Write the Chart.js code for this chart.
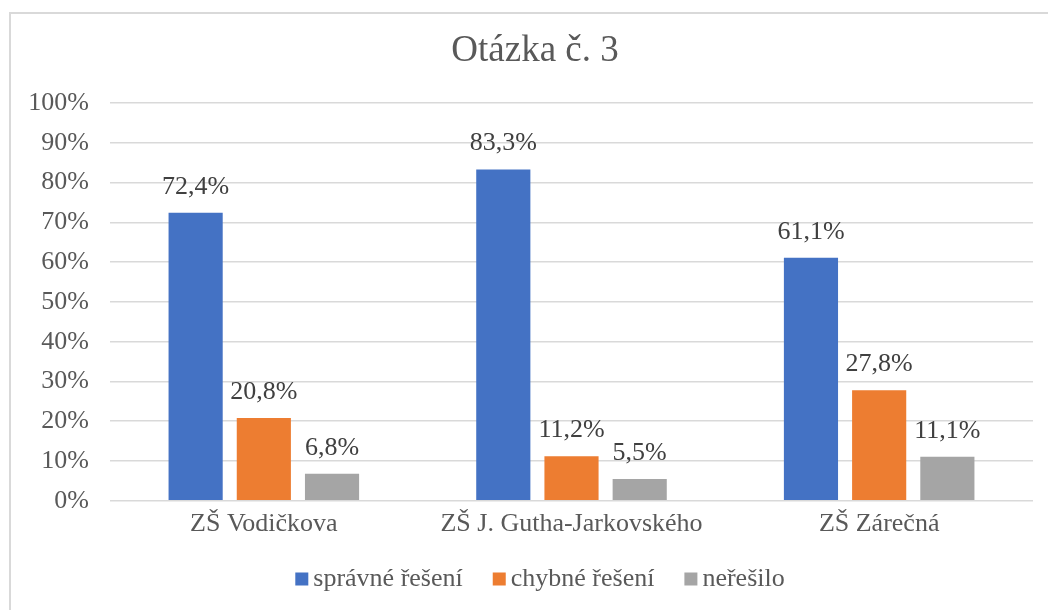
<!DOCTYPE html>
<html>
<head>
<meta charset="utf-8">
<script src="https://cdn.jsdelivr.net/npm/chart.js@4/dist/chart.umd.min.js"></script>
<style>
  html, body { margin: 0; padding: 0; background: #ffffff; }
  #wrap { position: relative; width: 1048px; height: 610px; }
</style>
</head>
<body>
<div id="wrap"><canvas id="c" width="1048" height="610"></canvas></div>
<script>
const titleText = 'Otázka č. 3';
const categories = ['ZŠ Vodičkova', 'ZŠ J. Gutha-Jarkovského', 'ZŠ Zárečná'];
const seriesNames = ['správné řešení', 'chybné řešení', 'neřešilo'];
const spravneReseni = [72.4, 83.3, 61.1];
const chybneReseni = [20.8, 11.2, 27.8];
const neresilo = [6.8, 5.5, 11.1];
const seriesColors = ['#4472C4', '#ED7D31', '#A5A5A5'];
const yMin = 0, yMax = 100, yStep = 10;

const serif = "'Liberation Serif', 'Times New Roman', serif";
const fmt = v => v.toFixed(1).replace('.', ',') + '%';

const borderPlugin = {
  id: 'outerBorder',
  beforeDraw(chart) {
    const ctx = chart.ctx;
    ctx.save();
    ctx.fillStyle = '#d9d9d9';
    ctx.fillRect(9, 12, chart.width - 9, 2);
    ctx.fillRect(9, 12, 2, chart.height - 12);
    ctx.restore();
  }
};

const titleAndLegend = {
  id: 'titleAndLegend',
  afterDraw(chart) {
    const ctx = chart.ctx;
    ctx.save();
    // title
    ctx.font = '37px ' + serif;
    ctx.fillStyle = '#595959';
    ctx.textAlign = 'center';
    ctx.textBaseline = 'alphabetic';
    ctx.fillText(titleText, 535, 61);
    // legend
    ctx.font = '26px ' + serif;
    const box = 13, gapText = 5, gapItem = 30;
    const items = chart.data.datasets.map(ds => ({
      text: ds.label, color: ds.backgroundColor, w: ctx.measureText(ds.label).width
    }));
    const total = items.reduce((s, it) => s + box + gapText + it.w, 0) + gapItem * (items.length - 1);
    let x = 540 - total / 2;
    const cy = 579;
    ctx.textAlign = 'left';
    ctx.textBaseline = 'middle';
    items.forEach(it => {
      ctx.fillStyle = it.color;
      ctx.fillRect(x, cy - 6.5, box, box);
      ctx.fillStyle = '#595959';
      ctx.fillText(it.text, x + box + gapText, cy);
      x += box + gapText + it.w + gapItem;
    });
    ctx.restore();
  }
};

const valueLabels = {
  id: 'valueLabels',
  afterDatasetsDraw(chart) {
    const ctx = chart.ctx;
    ctx.save();
    ctx.font = '26px ' + serif;
    ctx.fillStyle = '#404040';
    ctx.textAlign = 'center';
    ctx.textBaseline = 'alphabetic';
    chart.data.datasets.forEach((ds, di) => {
      const meta = chart.getDatasetMeta(di);
      meta.data.forEach((bar, i) => {
        ctx.fillText(fmt(ds.data[i]), bar.x, bar.y - 19);
      });
    });
    ctx.restore();
  }
};

const datasetsValues = [spravneReseni, chybneReseni, neresilo];

new Chart(document.getElementById('c'), {
  type: 'bar',
  data: {
    labels: categories,
    datasets: datasetsValues.map((vals, i) => ({
      label: seriesNames[i],
      data: vals,
      backgroundColor: seriesColors[i],
      borderWidth: 0,
      categoryPercentage: 0.665,
      barPercentage: 0.794
    }))
  },
  options: {
    responsive: false,
    animation: false,
    devicePixelRatio: 1,
    layout: { padding: { top: 103, left: 12, right: 15, bottom: 62 } },
    plugins: {
      title: { display: false },
      legend: { display: false },
      tooltip: { enabled: false }
    },
    scales: {
      x: {
        grid: { display: false, drawTicks: false },
        border: { display: false },
        ticks: {
          color: '#595959',
          font: { family: serif, size: 26 },
          padding: 8,
          maxRotation: 0
        }
      },
      y: {
        min: yMin,
        max: yMax,
        grid: { color: '#d9d9d9', lineWidth: 1.5, drawTicks: false },
        border: { display: false },
        ticks: {
          stepSize: yStep,
          color: '#595959',
          font: { family: serif, size: 26 },
          padding: 21,
          callback: v => v + '%'
        },
        afterFit(scale) { scale.width = 98; }
      }
    }
  },
  plugins: [borderPlugin, titleAndLegend, valueLabels]
});
</script>
</body>
</html>
